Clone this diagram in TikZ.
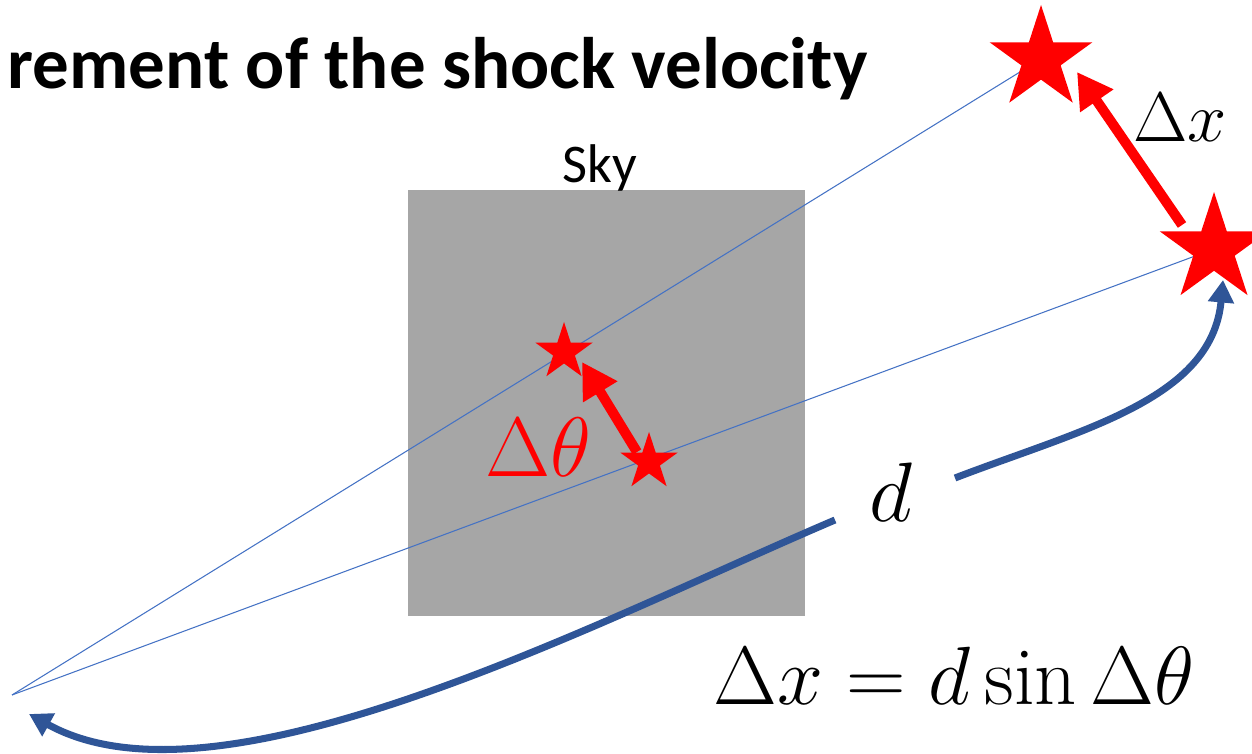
\RequirePackage{fix-cm}
\documentclass[tikz,border=0pt]{standalone}
\usepackage{amsmath}
\usepackage{fontspec}
\setsansfont{Carlito}
\usepackage{xcolor}
\definecolor{skygray}{RGB}{166, 166, 166}
\definecolor{sightblue}{RGB}{68, 114, 196}
\definecolor{distblue}{RGB}{47, 85, 151}
\definecolor{starred}{RGB}{255, 0, 0}
\usetikzlibrary{arrows.meta, positioning, shapes.geometric, backgrounds}

\begin{document}
\begin{tikzpicture}[
    redstar/.style={star, star points=5, star point ratio=2.618, fill=starred, inner sep=0pt},
    sight/.style={sightblue, line width=0.6pt},
    shiftarrow/.style={-{Triangle[length=0.7cm, width=0.76cm]}, starred, line width=5.7pt},
    dist/.style={-{Triangle[length=0.45cm, width=0.5cm]}, distblue, line width=4pt},
    mathlabel/.style={font=\fontsize{48}{56}\selectfont, inner sep=0pt}
]
\useasboundingbox (0, 0) rectangle (25.04, 15.08);

% === Estrellas ===
\node[redstar, minimum size=2.16cm] (TS) at (20.82, 13.90) {};
\node[redstar, minimum size=2.28cm] (LS) at (24.28, 10.10) {};
\node[redstar, minimum size=1.2cm] (s1) at (11.28, 8.04) {};
\node[redstar, minimum size=1.2cm] (s2) at (12.98, 5.84) {};

\coordinate (obs) at (0.24, 1.18);

% === Cielo y lineas de vision ===
\begin{pgfonlayer}{background}
    \node[fill=skygray, minimum width=7.94cm, minimum height=8.52cm, inner sep=0pt, anchor=south west] (sky) at (8.16, 2.76) {};
    \draw[sight] (obs) -- (TS.center);
    \draw[sight] (obs) -- (LS.center);
\end{pgfonlayer}
\node[font=\sffamily\fontsize{31}{36}\selectfont, anchor=base, inner sep=0pt] (skylabel) at (12.0, 11.42) {Sky};

% === Distancia d ===
\node[mathlabel, anchor=base] (d) at (17.82, 4.64) {$d$};
\coordinate (dR) at (19.10, 5.52);
\coordinate (dL) at (16.70, 4.68);
\coordinate (tipR) at (24.46, 9.48);
\coordinate (tipL) at (0.58, 0.80);
\draw[dist] (dR) .. controls (21.6, 6.48) and (24.24, 7.08) .. (tipR);
\draw[dist] (dL) .. controls (12.0, 2.68) and (4.4, -1.32) .. (tipL);

% === Desplazamientos ===
\coordinate (dxTail) at (23.64, 10.58);
\coordinate (dxTip) at (21.54, 13.64);
\coordinate (dtTail) at (12.74, 6.04);
\coordinate (dtTip) at (11.64, 7.84);
\draw[shiftarrow] (dxTail) -- (dxTip);
\draw[shiftarrow] (dtTail) -- (dtTip);

% === Etiquetas ===
\node[font=\sffamily\bfseries\fontsize{41.5}{48}\selectfont, anchor=base east, inner sep=0pt] (title) at (17.36, 13.30) {rement of the shock velocity};
\node[mathlabel, font=\fontsize{40}{48}\selectfont, anchor=base west] (dx) at (22.66, 12.24) {$\Delta x$};
\node[mathlabel, anchor=base west, starred] (dtheta) at (9.70, 5.54) {$\Delta\theta$};
\node[mathlabel, font=\fontsize{47}{54}\selectfont, anchor=base] (formula) at (19.08, 0.98) {$\Delta x = d\sin\Delta\theta$};

\end{tikzpicture}
\end{document}
